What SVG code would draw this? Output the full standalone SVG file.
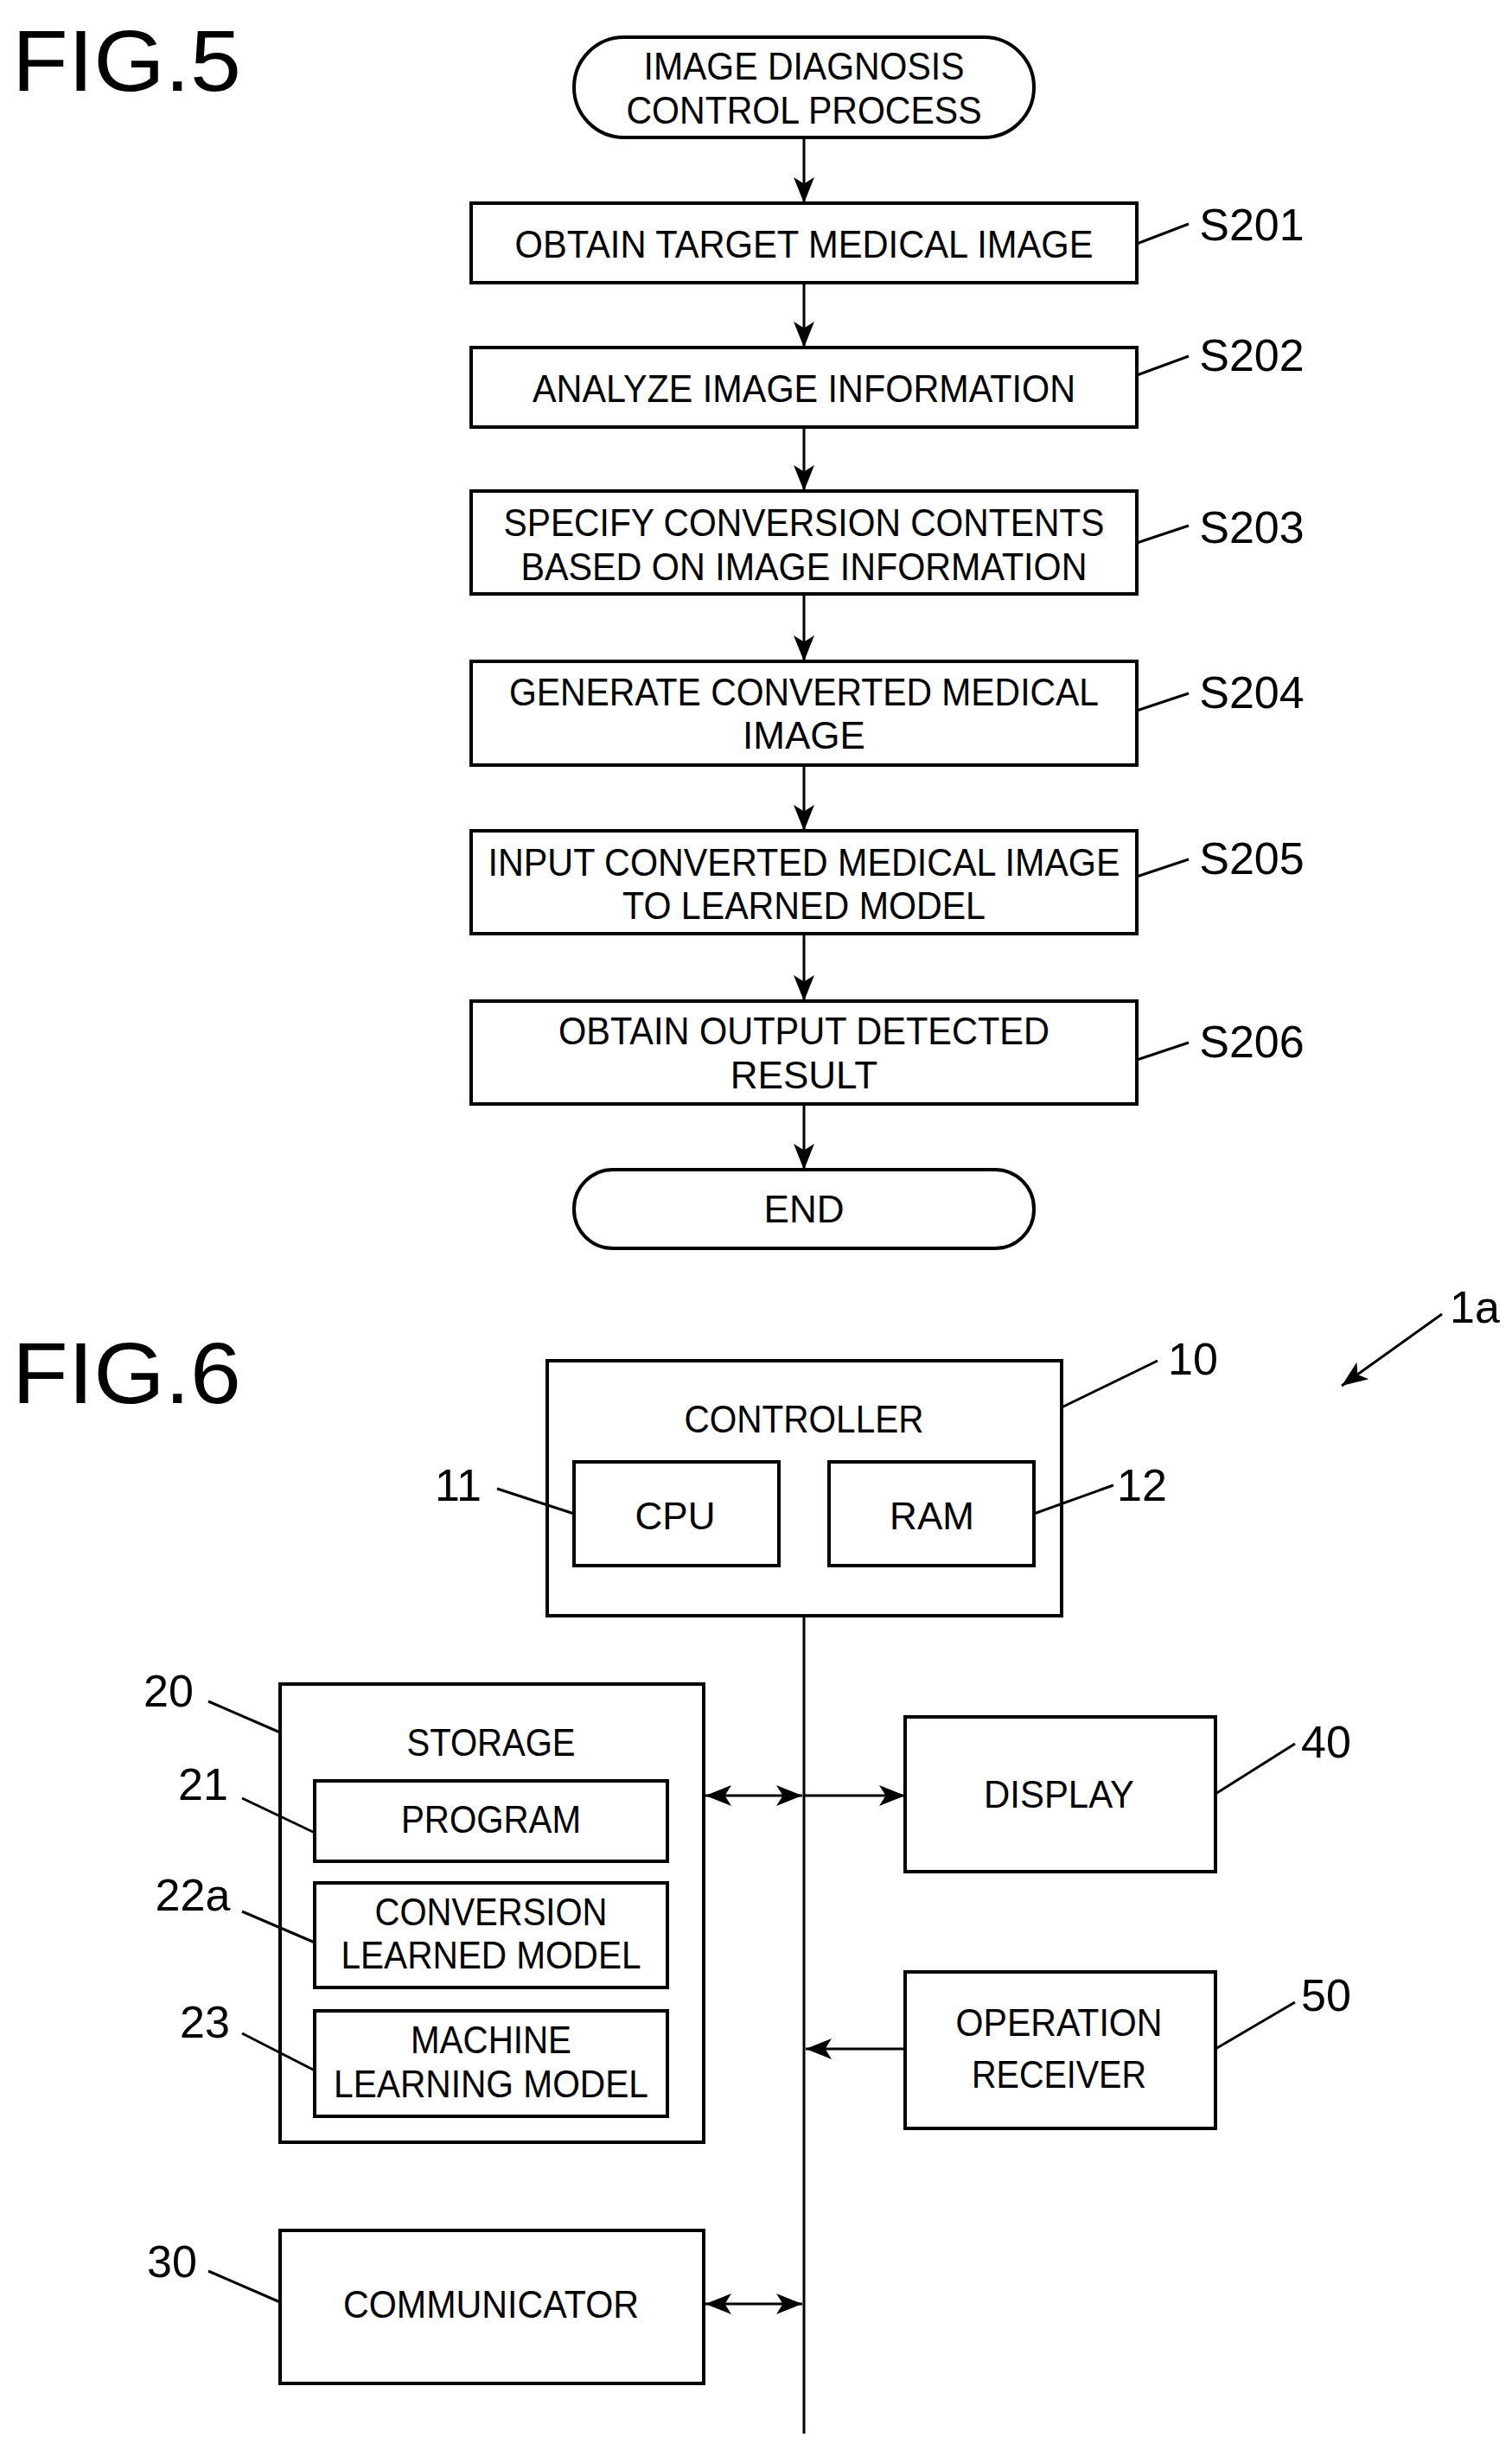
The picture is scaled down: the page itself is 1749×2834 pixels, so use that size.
<svg xmlns="http://www.w3.org/2000/svg" width="1749" height="2834" viewBox="0 0 1749 2834">
<defs>
<marker id="ah" viewBox="0 0 20 20" refX="20" refY="10" markerWidth="30" markerHeight="30" markerUnits="userSpaceOnUse" orient="auto-start-reverse"><path d="M0,2 L20,10 L0,18 L5,10 Z" fill="#000"/></marker>
</defs>
<style>
.b{fill:#fff;stroke:#000;stroke-width:4}
.t{font-family:"Liberation Sans",sans-serif;font-size:44px;text-anchor:middle;dominant-baseline:central;fill:#000}
.l{font-family:"Liberation Sans",sans-serif;font-size:52px;text-anchor:middle;dominant-baseline:central;fill:#000}
.h{font-family:"Liberation Sans",sans-serif;font-size:100px;fill:#000}
.c{stroke:#000;stroke-width:3;fill:none}
.a{stroke:#000;stroke-width:3;fill:none;marker-end:url(#ah)}
.d{stroke:#000;stroke-width:3;fill:none;marker-end:url(#ah);marker-start:url(#ah)}
</style>
<rect width="1749" height="2834" fill="#fff"/>
<text class="h" x="14" y="105" textLength="265" lengthAdjust="spacingAndGlyphs">FIG.5</text>
<text class="h" x="14" y="1623" textLength="265" lengthAdjust="spacingAndGlyphs">FIG.6</text>
<g id="connectors">
<line class="a" x1="930" y1="159" x2="930" y2="235"/>
<line class="a" x1="930" y1="327" x2="930" y2="402"/>
<line class="a" x1="930" y1="494" x2="930" y2="568"/>
<line class="a" x1="930" y1="687" x2="930" y2="765"/>
<line class="a" x1="930" y1="885" x2="930" y2="961"/>
<line class="a" x1="930" y1="1080" x2="930" y2="1158"/>
<line class="a" x1="930" y1="1277" x2="930" y2="1353"/>
<line class="a" x1="1668" y1="1520" x2="1552" y2="1603"/>
<line class="c" x1="930" y1="1869" x2="930" y2="2815"/>
<line class="d" x1="816" y1="2077" x2="928" y2="2077"/>
<line class="a" x1="930" y1="2077" x2="1047" y2="2077"/>
<line class="a" x1="1047" y1="2370" x2="932" y2="2370"/>
<line class="d" x1="816" y1="2665" x2="928" y2="2665"/>
</g>
<g id="start"><rect class="b" x="664" y="43" width="532" height="116" rx="58"/><text class="t" x="930" y="76" textLength="371" lengthAdjust="spacingAndGlyphs">IMAGE DIAGNOSIS</text><text class="t" x="930" y="127" textLength="411" lengthAdjust="spacingAndGlyphs">CONTROL PROCESS</text></g>
<g id="s201"><rect class="b" x="545" y="235" width="770" height="92"/><text class="t" x="930" y="282" textLength="669" lengthAdjust="spacingAndGlyphs">OBTAIN TARGET MEDICAL IMAGE</text><text class="l" x="1448" y="260">S201</text></g>
<g id="s202"><rect class="b" x="545" y="402" width="770" height="92"/><text class="t" x="930" y="449" textLength="628" lengthAdjust="spacingAndGlyphs">ANALYZE IMAGE INFORMATION</text><text class="l" x="1448" y="411">S202</text></g>
<g id="s203"><rect class="b" x="545" y="568" width="770" height="119"/><text class="t" x="930" y="604" textLength="695" lengthAdjust="spacingAndGlyphs">SPECIFY CONVERSION CONTENTS</text><text class="t" x="930" y="655" textLength="655" lengthAdjust="spacingAndGlyphs">BASED ON IMAGE INFORMATION</text><text class="l" x="1448" y="610">S203</text></g>
<g id="s204"><rect class="b" x="545" y="765" width="770" height="120"/><text class="t" x="930" y="800" textLength="682" lengthAdjust="spacingAndGlyphs">GENERATE CONVERTED MEDICAL</text><text class="t" x="930" y="850">IMAGE</text><text class="l" x="1448" y="801">S204</text></g>
<g id="s205"><rect class="b" x="545" y="961" width="770" height="119"/><text class="t" x="930" y="997" textLength="731" lengthAdjust="spacingAndGlyphs">INPUT CONVERTED MEDICAL IMAGE</text><text class="t" x="930" y="1047" textLength="420" lengthAdjust="spacingAndGlyphs">TO LEARNED MODEL</text><text class="l" x="1448" y="993">S205</text></g>
<g id="s206"><rect class="b" x="545" y="1158" width="770" height="119"/><text class="t" x="930" y="1192" textLength="568" lengthAdjust="spacingAndGlyphs">OBTAIN OUTPUT DETECTED</text><text class="t" x="930" y="1243">RESULT</text><text class="l" x="1448" y="1205">S206</text></g>
<g id="end"><rect class="b" x="664" y="1353" width="532" height="91" rx="45"/><text class="t" x="930" y="1398">END</text></g>
<text class="l" x="1706" y="1512">1a</text>
<g id="controller"><rect class="b" x="633" y="1574" width="595" height="295"/><text class="t" x="930" y="1641" textLength="277" lengthAdjust="spacingAndGlyphs">CONTROLLER</text><text class="l" x="1380" y="1572">10</text></g>
<g id="cpu"><rect class="b" x="664" y="1691" width="237" height="120"/><text class="t" x="781" y="1753">CPU</text><text class="l" x="530" y="1718">11</text></g>
<g id="ram"><rect class="b" x="959" y="1691" width="237" height="120"/><text class="t" x="1078" y="1753">RAM</text><text class="l" x="1321" y="1718">12</text></g>
<g id="storage"><rect class="b" x="324" y="1948" width="490" height="530"/><text class="t" x="568" y="2015" textLength="195" lengthAdjust="spacingAndGlyphs">STORAGE</text><text class="l" x="195" y="1956">20</text></g>
<g id="program"><rect class="b" x="364" y="2060" width="408" height="93"/><text class="t" x="568" y="2104" textLength="208" lengthAdjust="spacingAndGlyphs">PROGRAM</text><text class="l" x="235" y="2064">21</text></g>
<g id="conv"><rect class="b" x="364" y="2178" width="408" height="121"/><text class="t" x="568" y="2211" textLength="269" lengthAdjust="spacingAndGlyphs">CONVERSION</text><text class="t" x="568" y="2261" textLength="347" lengthAdjust="spacingAndGlyphs">LEARNED MODEL</text><text class="l" x="223" y="2192">22a</text></g>
<g id="ml"><rect class="b" x="364" y="2326" width="408" height="122"/><text class="t" x="568" y="2359" textLength="186" lengthAdjust="spacingAndGlyphs">MACHINE</text><text class="t" x="568" y="2410" textLength="364" lengthAdjust="spacingAndGlyphs">LEARNING MODEL</text><text class="l" x="237" y="2339">23</text></g>
<g id="display"><rect class="b" x="1047" y="1986" width="359" height="179"/><text class="t" x="1225" y="2075" textLength="174" lengthAdjust="spacingAndGlyphs">DISPLAY</text><text class="l" x="1534" y="2015">40</text></g>
<g id="oprec"><rect class="b" x="1047" y="2281" width="359" height="181"/><text class="t" x="1225" y="2339" textLength="239" lengthAdjust="spacingAndGlyphs">OPERATION</text><text class="t" x="1225" y="2399" textLength="202" lengthAdjust="spacingAndGlyphs">RECEIVER</text><text class="l" x="1534" y="2308">50</text></g>
<g id="comm"><rect class="b" x="324" y="2580" width="490" height="177"/><text class="t" x="568" y="2665" textLength="342" lengthAdjust="spacingAndGlyphs">COMMUNICATOR</text><text class="l" x="199" y="2616">30</text></g>
<g id="leaders">
<line class="c" x1="1315" y1="282" x2="1375" y2="259"/>
<line class="c" x1="1315" y1="434" x2="1375" y2="412"/>
<line class="c" x1="1315" y1="628" x2="1375" y2="608"/>
<line class="c" x1="1315" y1="822" x2="1375" y2="802"/>
<line class="c" x1="1315" y1="1014" x2="1375" y2="994"/>
<line class="c" x1="1315" y1="1226" x2="1375" y2="1206"/>
<line class="c" x1="1228" y1="1628" x2="1339" y2="1574"/>
<line class="c" x1="575" y1="1722" x2="664" y2="1751"/>
<line class="c" x1="1196" y1="1751" x2="1288" y2="1718"/>
<line class="c" x1="241" y1="1968" x2="324" y2="2004"/>
<line class="c" x1="280" y1="2080" x2="364" y2="2120"/>
<line class="c" x1="280" y1="2211" x2="364" y2="2247"/>
<line class="c" x1="280" y1="2352" x2="364" y2="2395"/>
<line class="c" x1="1406" y1="2075" x2="1498" y2="2017"/>
<line class="c" x1="1406" y1="2370" x2="1498" y2="2316"/>
<line class="c" x1="241" y1="2627" x2="324" y2="2663"/>
</g>
</svg>
